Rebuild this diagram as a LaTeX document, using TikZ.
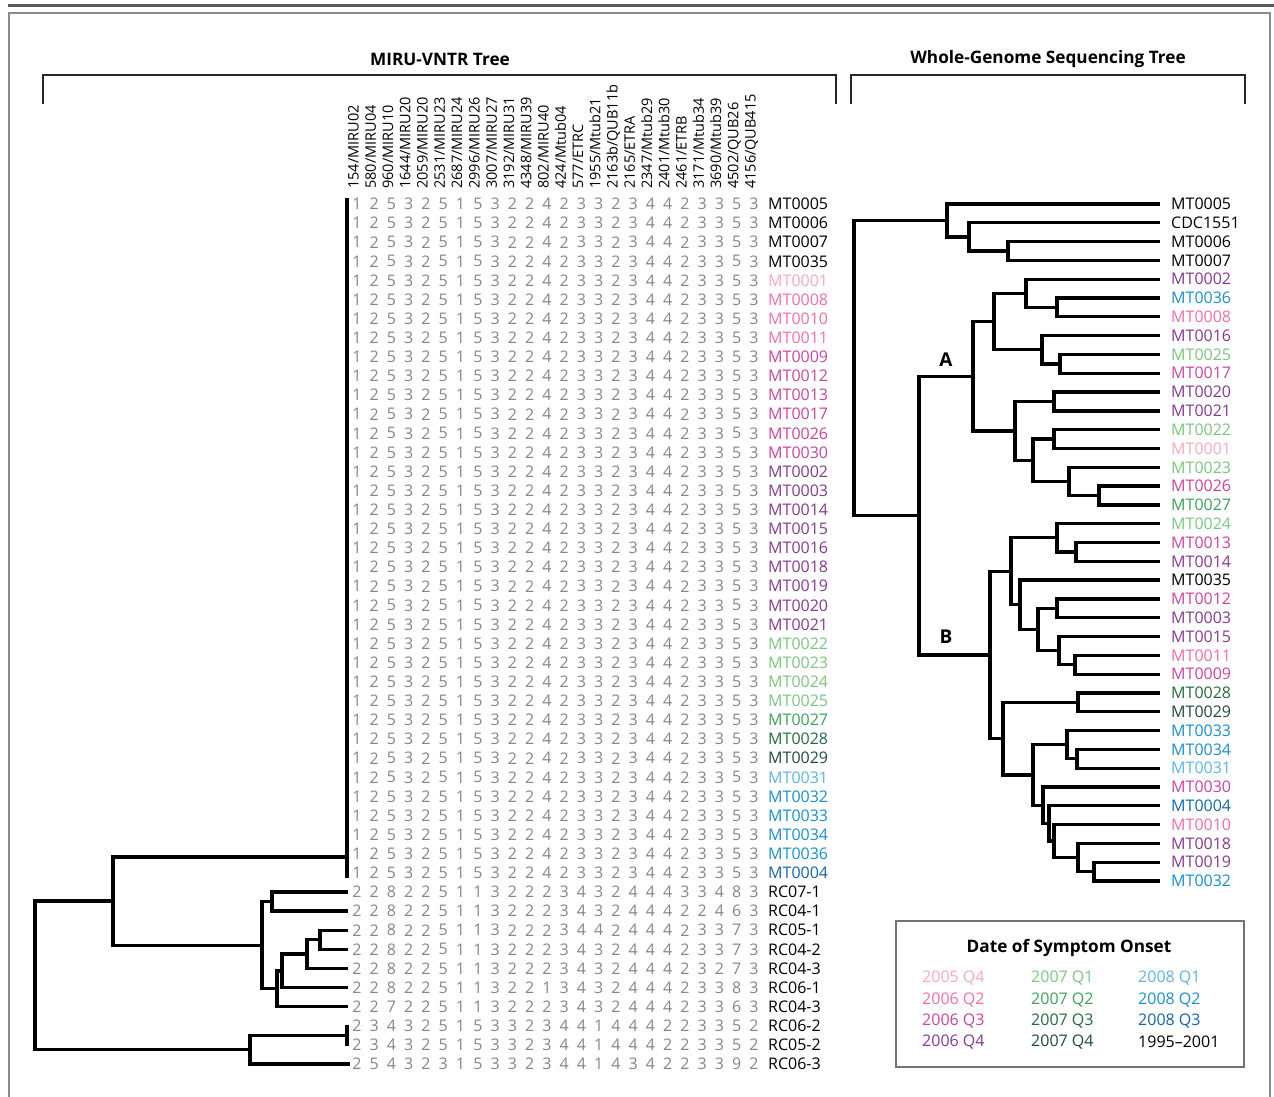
\documentclass[tikz,border=0pt]{standalone}
\usepackage{fontspec}
\setmainfont{Open Sans}
\definecolor{qA}{HTML}{F5A9BC}
\definecolor{qB}{HTML}{EF6FA2}
\definecolor{qC}{HTML}{C9449B}
\definecolor{qD}{HTML}{86398F}
\definecolor{qE}{HTML}{7CC57F}
\definecolor{qF}{HTML}{3F9F5A}
\definecolor{qG}{HTML}{236B3E}
\definecolor{qH}{HTML}{1E4D35}
\definecolor{qI}{HTML}{5DB4E1}
\definecolor{qJ}{HTML}{1B8ECC}
\definecolor{qK}{HTML}{1465A8}
\definecolor{digc}{HTML}{868686}
\definecolor{framec}{HTML}{8C8C8C}
\colorlet{MT0005}{black}\colorlet{MT0006}{black}\colorlet{MT0007}{black}\colorlet{MT0035}{black}\colorlet{CDC1551}{black}
\colorlet{MT0001}{qA}
\colorlet{MT0008}{qB}\colorlet{MT0010}{qB}\colorlet{MT0011}{qB}
\colorlet{MT0009}{qC}\colorlet{MT0012}{qC}\colorlet{MT0013}{qC}\colorlet{MT0017}{qC}\colorlet{MT0026}{qC}\colorlet{MT0030}{qC}
\colorlet{MT0002}{qD}\colorlet{MT0003}{qD}\colorlet{MT0014}{qD}\colorlet{MT0015}{qD}\colorlet{MT0016}{qD}\colorlet{MT0018}{qD}\colorlet{MT0019}{qD}\colorlet{MT0020}{qD}\colorlet{MT0021}{qD}
\colorlet{MT0022}{qE}\colorlet{MT0023}{qE}\colorlet{MT0024}{qE}\colorlet{MT0025}{qE}
\colorlet{MT0027}{qF}\colorlet{MT0028}{qG}\colorlet{MT0029}{qH}
\colorlet{MT0031}{qI}
\colorlet{MT0032}{qJ}\colorlet{MT0033}{qJ}\colorlet{MT0034}{qJ}\colorlet{MT0036}{qJ}
\colorlet{MT0004}{qK}
\newcommand\labfont{\fontsize{16}{18}\selectfont}
\newcommand\hdfont{\fontsize{14.5}{16}\selectfont}
\newcommand\ttlfont{\fontsize{17.2}{19}\selectfont\bfseries}
\newcommand\mydigrow[2]{\foreach \d [count=\c from 0] in {#2} {\node[dig] (d#1-\c) at (357+17.26*\c, 204+19.111*#1) {\d};}}
\begin{document}
\begin{tikzpicture}[x=1pt,y=-1pt,
  tree/.style={line width=3.3pt, line join=miter},
  dig/.style={inner sep=0pt, font=\labfont, text=digc},
  mlab/.style={anchor=west, inner sep=0pt, font=\labfont},
  rlab/.style={anchor=west, inner xsep=11pt, inner ysep=0pt, font=\labfont},
  hd/.style={rotate=90, anchor=mid west, inner sep=0pt, font=\hdfont},
  ttl/.style={font=\ttlfont, inner sep=0pt},
  brk/.style={line width=1.4pt, black!85},
  clade/.style={font=\fontsize{19}{21}\selectfont\bfseries, inner sep=0pt},
  leg/.style={anchor=west, inner sep=0pt, font=\labfont}]
\useasboundingbox (0,0) rectangle (1274,1096);
% frame
\draw[line width=3pt, black!65] (8,5) -- (1274,5);
\draw[line width=2pt, framec] (9,1100) -- (9,13) -- (1270,13) -- (1270,1100);
% titles and brackets
\node[ttl] (t1) at (440,59) {MIRU-VNTR Tree};
\node[ttl] (t2) at (1048,59) {Whole-Genome Sequencing Tree};
\draw[brk] (43,104) -- (43,75) -- (836,75) -- (836,104);
\draw[brk] (851,104) -- (851,75) -- (1245,75) -- (1245,104);
% column headers
\foreach \h [count=\c from 0] in {154/MIRU02,580/MIRU04,960/MIRU10,1644/MIRU20,2059/MIRU20,2531/MIRU23,2687/MIRU24,2996/MIRU26,3007/MIRU27,3192/MIRU31,4348/MIRU39,802/MIRU40,424/Mtub04,577/ETRC,1955/Mtub21,2163b/QUB11b,2165/ETRA,2347/Mtub29,2401/Mtub30,2461/ETRB,3171/Mtub34,3690/Mtub39,4502/QUB26,4156/QUB415}
  \node[hd] (h\c) at (356+17.26*\c, 189) {\h};
% digit rows
\foreach \i in {0,...,35} {\mydigrow{\i}{1,2,5,3,2,5,1,5,3,2,2,4,2,3,3,2,3,4,4,2,3,3,5,3}}
\mydigrow{36}{2,2,8,2,2,5,1,1,3,2,2,2,3,4,3,2,4,4,4,3,3,4,8,3}
\mydigrow{37}{2,2,8,2,2,5,1,1,3,2,2,2,3,4,3,2,4,4,4,2,2,4,6,3}
\mydigrow{38}{2,2,8,2,2,5,1,1,3,2,2,2,3,4,4,2,4,4,4,2,3,3,7,3}
\mydigrow{39}{2,2,8,2,2,5,1,1,3,2,2,2,3,4,3,2,4,4,4,2,3,3,7,3}
\mydigrow{40}{2,2,8,2,2,5,1,1,3,2,2,2,3,4,3,2,4,4,4,2,3,2,7,3}
\mydigrow{41}{2,2,8,2,2,5,1,1,3,2,2,1,3,4,3,2,4,4,4,2,3,3,8,3}
\mydigrow{42}{2,2,7,2,2,5,1,1,3,2,2,2,3,4,3,2,4,4,4,2,3,3,6,3}
\mydigrow{43}{2,3,4,3,2,5,1,5,3,3,2,3,4,4,1,4,4,4,2,2,3,3,5,2}
\mydigrow{44}{2,3,4,3,2,5,1,5,3,3,2,3,4,4,1,4,4,4,2,2,3,3,5,2}
\mydigrow{45}{2,5,4,3,2,3,1,5,3,3,2,3,4,4,1,4,3,4,2,2,3,3,9,2}
% MIRU labels
\foreach \n [count=\i from 0] in {MT0005,MT0006,MT0007,MT0035,MT0001,MT0008,MT0010,MT0011,MT0009,MT0012,MT0013,MT0017,MT0026,MT0030,MT0002,MT0003,MT0014,MT0015,MT0016,MT0018,MT0019,MT0020,MT0021,MT0022,MT0023,MT0024,MT0025,MT0027,MT0028,MT0029,MT0031,MT0032,MT0033,MT0034,MT0036,MT0004}
  \node[mlab, text=\n] (ML\i) at (768, 204+19.111*\i) {\n};
\foreach \n [count=\i from 36] in {RC07-1,RC04-1,RC05-1,RC04-2,RC04-3,RC06-1,RC04-3,RC06-2,RC05-2,RC06-3}
  \node[mlab] (ML\i) at (768, 204+19.111*\i) {\n};
% MIRU tree
\coordinate (m35) at (35,975.4);
\coordinate (m113) at (113,901.1);
\coordinate (m250) at (250,1049.7);
\coordinate (comb) at (347,857);
\coordinate (combtop) at (347,198);
\coordinate (combbot) at (347,878);
\coordinate (m262) at (262,945.2);
\coordinate (m272) at (272,901.55);
\coordinate (m277) at (277,988.8);
\coordinate (m282) at (282,970.85);
\coordinate (m307) at (307,954.1);
\coordinate (m320) at (320,939.75);
\coordinate (pair) at (347,1035.35);
\coordinate (pairtop) at (347,1025);
\coordinate (pairbot) at (347,1046);
\foreach \i in {36,...,42} \coordinate (r\i) at (348, 204+19.111*\i);
\coordinate (r45) at (350, 204+19.111*45);
\draw[tree] (combtop) -- (combbot);
\draw[tree] (pairtop) -- (pairbot);
\foreach \p/\q in {m35/m113,m35/m250,m113/comb,m113/m262,m262/m272,m262/m277,m272/r36,m272/r37,m277/m282,m277/r42,m282/m307,m282/r41,m307/m320,m307/r40,m320/r38,m320/r39,m250/pair,m250/r45}
  \draw[tree] (\p) |- (\q);
% WGS labels
\foreach \n [count=\j from 0] in {MT0005,CDC1551,MT0006,MT0007,MT0002,MT0036,MT0008,MT0016,MT0025,MT0017,MT0020,MT0021,MT0022,MT0001,MT0023,MT0026,MT0027,MT0024,MT0013,MT0014,MT0035,MT0012,MT0003,MT0015,MT0011,MT0009,MT0028,MT0029,MT0033,MT0034,MT0031,MT0030,MT0004,MT0010,MT0018,MT0019,MT0032}
  \node[rlab, text=\n] (R\n) at (1160, 204+18.806*\j) {\n};
% WGS tree
\coordinate (w854) at (854,368.05);
\coordinate (w947) at (947,220.5);
\coordinate (w969) at (969,236.9);
\coordinate (w1008) at (1008,251.0);
\coordinate (wG) at (919,515.6);
\coordinate (wA) at (973,376.2);
\coordinate (a994) at (994,321.5);
\coordinate (a1026) at (1026,293.3);
\coordinate (a1057) at (1057,307.4);
\coordinate (a1042) at (1042,349.7);
\coordinate (a1060) at (1060,363.85);
\coordinate (a1015) at (1015,430.9);
\coordinate (a1054) at (1054,401.5);
\coordinate (a1033) at (1033,460.25);
\coordinate (a1054b) at (1054,439.1);
\coordinate (a1069) at (1069,481.4);
\coordinate (a1099) at (1099,495.5);
\coordinate (wB) at (990,655.0);
\coordinate (b1011) at (1011,571.3);
\coordinate (b1057) at (1057,537.8);
\coordinate (b1076) at (1076,551.9);
\coordinate (b1020) at (1020,604.8);
\coordinate (b1038) at (1038,629.45);
\coordinate (b1057c) at (1057,608.3);
\coordinate (b1059) at (1059,650.6);
\coordinate (b1075) at (1075,664.75);
\coordinate (b1003) at (1003,738.7);
\coordinate (b1078) at (1078,702.4);
\coordinate (b1033) at (1033,774.95);
\coordinate (b1067) at (1067,744.7);
\coordinate (b1077) at (1077,758.8);
\coordinate (b1043) at (1043,805.2);
\coordinate (b1049) at (1049,823.4);
\coordinate (b1054) at (1054,841.05);
\coordinate (b1078c) at (1078,857.5);
\coordinate (b1094) at (1094,871.6);
\foreach \p/\q in {w854/w947, w854/wG,
  w947/RMT0005.west, w947/w969, w969/RCDC1551.west, w969/w1008,
  w1008/RMT0006.west, w1008/RMT0007.west,
  wG/wA, wG/wB, wA/a994, wA/a1015, a994/a1026, a994/a1042,
  a1026/RMT0002.west, a1026/a1057, a1057/RMT0036.west, a1057/RMT0008.west,
  a1042/RMT0016.west, a1042/a1060, a1060/RMT0025.west, a1060/RMT0017.west,
  a1015/a1054, a1015/a1033, a1054/RMT0020.west, a1054/RMT0021.west,
  a1033/a1054b, a1033/a1069, a1054b/RMT0022.west, a1054b/RMT0001.west,
  a1069/RMT0023.west, a1069/a1099, a1099/RMT0026.west, a1099/RMT0027.west,
  wB/b1011, wB/b1003, b1011/b1057, b1011/b1020,
  b1057/RMT0024.west, b1057/b1076, b1076/RMT0013.west, b1076/RMT0014.west,
  b1020/RMT0035.west, b1020/b1038, b1038/b1057c, b1038/b1059,
  b1057c/RMT0012.west, b1057c/RMT0003.west, b1059/RMT0015.west, b1059/b1075,
  b1075/RMT0011.west, b1075/RMT0009.west,
  b1003/b1078, b1003/b1033, b1078/RMT0028.west, b1078/RMT0029.west,
  b1033/b1067, b1033/b1043, b1067/RMT0033.west, b1067/b1077,
  b1077/RMT0034.west, b1077/RMT0031.west, b1043/RMT0030.west, b1043/b1049,
  b1049/RMT0004.west, b1049/b1054, b1054/RMT0010.west, b1054/b1078c,
  b1078c/RMT0018.west, b1078c/b1094, b1094/RMT0019.west, b1094/RMT0032.west}
  \draw[tree] (\p) |- (\q);
\node[clade] (cA) at (946,360) {A};
\node[clade] (cB) at (946,637) {B};
% legend
\node[draw=black!55, line width=2pt, minimum width=348pt, minimum height=146pt, inner sep=0pt] (legend) at (1070,994) {};
\node[ttl] (legt) at (1069,948) {Date of Symptom Onset};
\node[leg, text=qA] (l1) at (922,978) {2005 Q4};
\node[leg, text=qB] (l2) at (922,1000) {2006 Q2};
\node[leg, text=qC] (l3) at (922,1021) {2006 Q3};
\node[leg, text=qD] (l4) at (922,1042) {2006 Q4};
\node[leg, text=qE] (l5) at (1031,978) {2007 Q1};
\node[leg, text=qF] (l6) at (1031,1000) {2007 Q2};
\node[leg, text=qG] (l7) at (1031,1021) {2007 Q3};
\node[leg, text=qH] (l8) at (1031,1042) {2007 Q4};
\node[leg, text=qI] (l9) at (1138,978) {2008 Q1};
\node[leg, text=qJ] (l10) at (1138,1000) {2008 Q2};
\node[leg, text=qK] (l11) at (1138,1021) {2008 Q3};
\node[leg] (l12) at (1138,1042) {1995--2001};
\end{tikzpicture}
\end{document}
